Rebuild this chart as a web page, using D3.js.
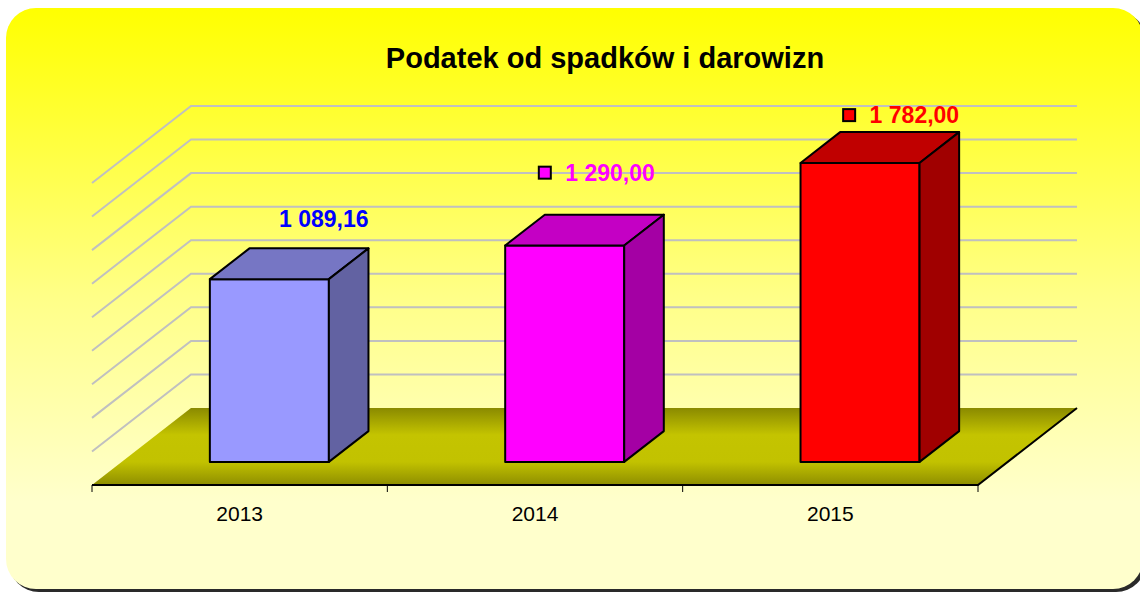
<!DOCTYPE html>
<html>
<head>
<meta charset="utf-8">
<script src="https://cdn.jsdelivr.net/npm/d3@7"></script>
<style>
  html, body { margin: 0; padding: 0; background: #fff; }
  #canvas { width: 1140px; height: 592px; }
</style>
</head>
<body>
<div id="canvas"></div>
<script>
let title = "Podatek od spadków i darowizn";
let years = ["2013", "2014", "2015"];
let values = [1089.16, 1290.0, 1782.0];
let valueLabels = ["1 089,16", "1 290,00", "1 782,00"];
let yTicks = [200, 400, 600, 800, 1000, 1200, 1400, 1600, 1800];

let frontColors = ["#9999ff", "#ff00ff", "#ff0000"];
let topColors = ["#7676c4", "#c400c4", "#c00000"];
let sideColors = ["#6262a2", "#a400a4", "#a00000"];
let labelColors = ["#0000ff", "#ff00ff", "#ff0000"];
let showKey = [false, true, true];

// label placement relative to the back-top-right corner of each bar
let labelNudge = [[0, -21], [-9, -34], [0, -9]];

let width = 1140, height = 592;
let font = "'Liberation Sans', Arial, sans-serif";

let svg = d3
  .select("#canvas")
  .append("svg")
  .attr("width", width)
  .attr("height", height);

let defs = svg.append("defs");

let bg = defs.append("linearGradient").attr("id", "bg")
  .attr("x1", 0).attr("y1", 0).attr("x2", 0).attr("y2", 1);
bg.append("stop").attr("offset", "0%").attr("stop-color", "#ffff00");
bg.append("stop").attr("offset", "50%").attr("stop-color", "#ffff88");
bg.append("stop").attr("offset", "85%").attr("stop-color", "#ffffcc");
bg.append("stop").attr("offset", "100%").attr("stop-color", "#ffffcc");

let floorGrad = defs.append("linearGradient").attr("id", "floor")
  .attr("x1", 0).attr("y1", 0).attr("x2", 0).attr("y2", 1);
floorGrad.append("stop").attr("offset", "0%").attr("stop-color", "#8a8a00");
floorGrad.append("stop").attr("offset", "35%").attr("stop-color", "#c4c400");
floorGrad.append("stop").attr("offset", "70%").attr("stop-color", "#c2c200");
floorGrad.append("stop").attr("offset", "100%").attr("stop-color", "#8e8e00");

// panel
svg.append("rect")
  .attr("x", 9).attr("y", 11)
  .attr("width", 1137).attr("height", 581)
  .attr("rx", 30)
  .attr("fill", "#2a2a2a");
svg.append("rect")
  .attr("x", 6).attr("y", 8)
  .attr("width", 1137).attr("height", 581)
  .attr("rx", 30)
  .attr("fill", "url(#bg)");

// scales: front plane of the floor, depth pushes back/up
let x = d3.scaleBand().domain(years).range([92, 978]).padding(0);
let y = d3.scaleLinear().domain([0, 1800]).range([485, 183]);
let depth = { dx: 99, dy: -77 };
let P = (px, v, z) => [px + z * depth.dx, y(v) + z * depth.dy];

let line = d3.line();
let [xMin, xMax] = x.range();

// gridlines on side wall and back wall
svg.append("g")
  .selectAll("path")
  .data(yTicks)
  .join("path")
  .attr("d", (v) => line([P(xMin, v, 0), P(xMin, v, 1), P(xMax, v, 1)]))
  .attr("fill", "none")
  .attr("stroke", "#c0c0c0")
  .attr("stroke-width", 2);

// floor
svg.append("path")
  .attr("d", line([P(xMin, 0, 0), P(xMax, 0, 0), P(xMax, 0, 1), P(xMin, 0, 1)]) + "Z")
  .attr("fill", "url(#floor)");

svg.append("path")
  .attr("d", line([P(xMin, 0, 0), P(xMax, 0, 0), P(xMax, 0, 1)]))
  .attr("fill", "none")
  .attr("stroke", "#000")
  .attr("stroke-width", 2);

// category ticks
let tickX = years.map((d) => x(d)).concat([xMax]);
svg.append("g")
  .selectAll("line")
  .data(tickX)
  .join("line")
  .attr("x1", (d) => d).attr("x2", (d) => d)
  .attr("y1", y(0)).attr("y2", y(0) + 7)
  .attr("stroke", "#000")
  .attr("stroke-width", 1);

// bars
let barW = x.bandwidth() * 0.403;
let z0 = 0.3, z1 = 0.7;
let bars = years.map((d, i) => {
  let x0 = x(d) + (x.bandwidth() - barW) / 2;
  return { year: d, value: values[i], i: i, x0: x0, x1: x0 + barW };
});

let barG = svg.append("g")
  .selectAll("g")
  .data(bars)
  .join("g")
  .attr("stroke", "#000")
  .attr("stroke-width", 2)
  .attr("stroke-linejoin", "round");

barG.append("path")
  .attr("d", (d) => line([P(d.x0, 0, z0), P(d.x1, 0, z0), P(d.x1, d.value, z0), P(d.x0, d.value, z0)]) + "Z")
  .attr("fill", (d) => frontColors[d.i]);

barG.append("path")
  .attr("d", (d) => line([P(d.x0, d.value, z0), P(d.x1, d.value, z0), P(d.x1, d.value, z1), P(d.x0, d.value, z1)]) + "Z")
  .attr("fill", (d) => topColors[d.i]);

barG.append("path")
  .attr("d", (d) => line([P(d.x1, 0, z0), P(d.x1, d.value, z0), P(d.x1, d.value, z1), P(d.x1, 0, z1)]) + "Z")
  .attr("fill", (d) => sideColors[d.i]);

// value labels
let labelG = svg.append("g")
  .selectAll("g")
  .data(bars)
  .join("g")
  .attr("transform", (d) => {
    let [px, py] = P(d.x1, d.value, z1);
    return `translate(${px + labelNudge[d.i][0]},${py + labelNudge[d.i][1]})`;
  });

labelG.append("text")
  .attr("text-anchor", "end")
  .attr("font-family", font)
  .attr("font-weight", "bold")
  .attr("font-size", 23)
  .attr("fill", (d) => labelColors[d.i])
  .text((d) => valueLabels[d.i]);

labelG.filter((d) => showKey[d.i])
  .append("rect")
  .attr("x", -116).attr("y", -14)
  .attr("width", 12).attr("height", 12)
  .attr("fill", (d) => frontColors[d.i])
  .attr("stroke", "#000")
  .attr("stroke-width", 2);

// category labels
svg.append("g")
  .selectAll("text")
  .data(years)
  .join("text")
  .attr("x", (d) => x(d) + x.bandwidth() / 2)
  .attr("y", 521)
  .attr("text-anchor", "middle")
  .attr("font-family", font)
  .attr("font-size", 21)
  .attr("fill", "#000")
  .text((d) => d);

// title
svg.append("text")
  .attr("x", 605)
  .attr("y", 68)
  .attr("text-anchor", "middle")
  .attr("font-family", font)
  .attr("font-weight", "bold")
  .attr("font-size", 29)
  .attr("fill", "#000")
  .text(title);
</script>
</body>
</html>
